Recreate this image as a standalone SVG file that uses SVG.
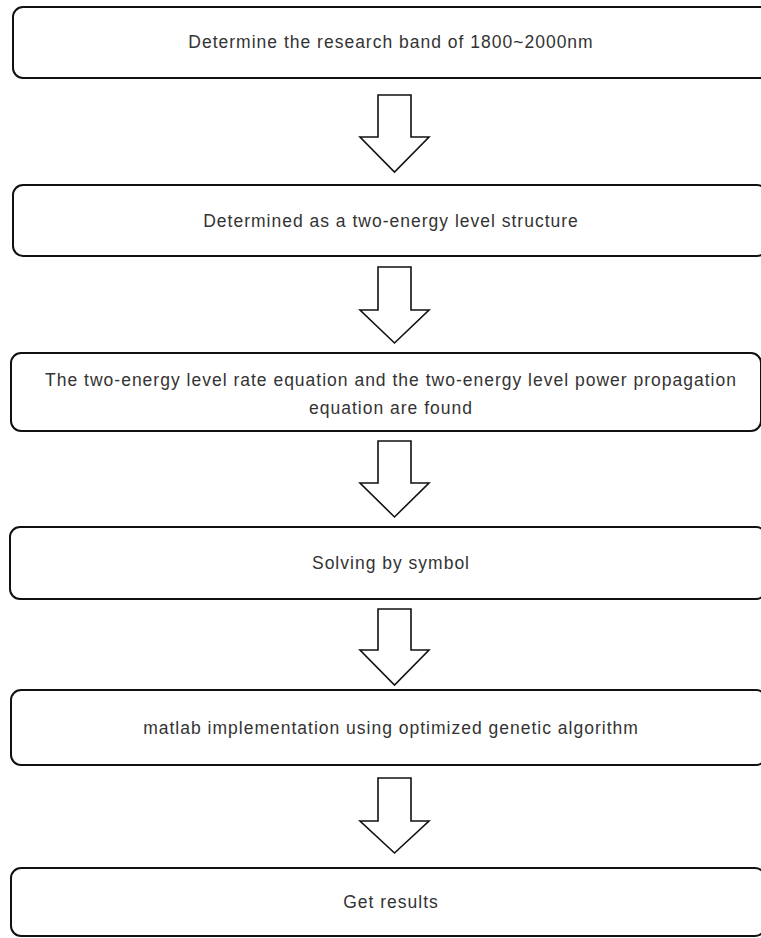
<svg xmlns="http://www.w3.org/2000/svg" width="761" height="938" viewBox="0 0 761 938">
<style>
.box{fill:#fff;stroke:#111;stroke-width:2}
.arr{fill:#fff;stroke:#111;stroke-width:1.6;stroke-linejoin:miter}
.t{font-family:"Liberation Sans",Arial,sans-serif;font-size:17.5px;letter-spacing:1px;fill:#333;text-anchor:middle}
</style>
<rect width="761" height="938" fill="#fff"/>
<g id="n1"><rect class="box" x="13" y="7" width="760" height="71" rx="10"/><text class="t" x="391" y="48">Determine the research band of 1800~2000nm</text></g>
<g id="n2"><rect class="box" x="13" y="185" width="754" height="71" rx="10"/><text class="t" x="391" y="227">Determined as a two-energy level structure</text></g>
<g id="n3"><rect class="box" x="11" y="353" width="750" height="78" rx="10"/><text class="t" x="391" y="386">The two-energy level rate equation and the two-energy level power propagation</text><text class="t" x="391" y="414">equation are found</text></g>
<g id="n4"><rect class="box" x="10" y="527" width="756" height="72" rx="10"/><text class="t" x="391" y="569">Solving by symbol</text></g>
<g id="n5"><rect class="box" x="11" y="690" width="755" height="75" rx="10"/><text class="t" x="391" y="734">matlab implementation using optimized genetic algorithm</text></g>
<g id="n6"><rect class="box" x="11" y="868" width="754" height="68" rx="10"/><text class="t" x="391" y="908">Get results</text></g>
<g id="connectors">
<path class="arr" d="M378 95H411V137H429L394.5 172L360 137H378Z"/>
<path class="arr" d="M378 267H411V310H429L394.5 343L360 310H378Z"/>
<path class="arr" d="M378 441H411V483H429L394.5 517L360 483H378Z"/>
<path class="arr" d="M378 609H411V650H429L394.5 685L360 650H378Z"/>
<path class="arr" d="M378 778H411V821H429L394.5 853L360 821H378Z"/>
</g>
</svg>
